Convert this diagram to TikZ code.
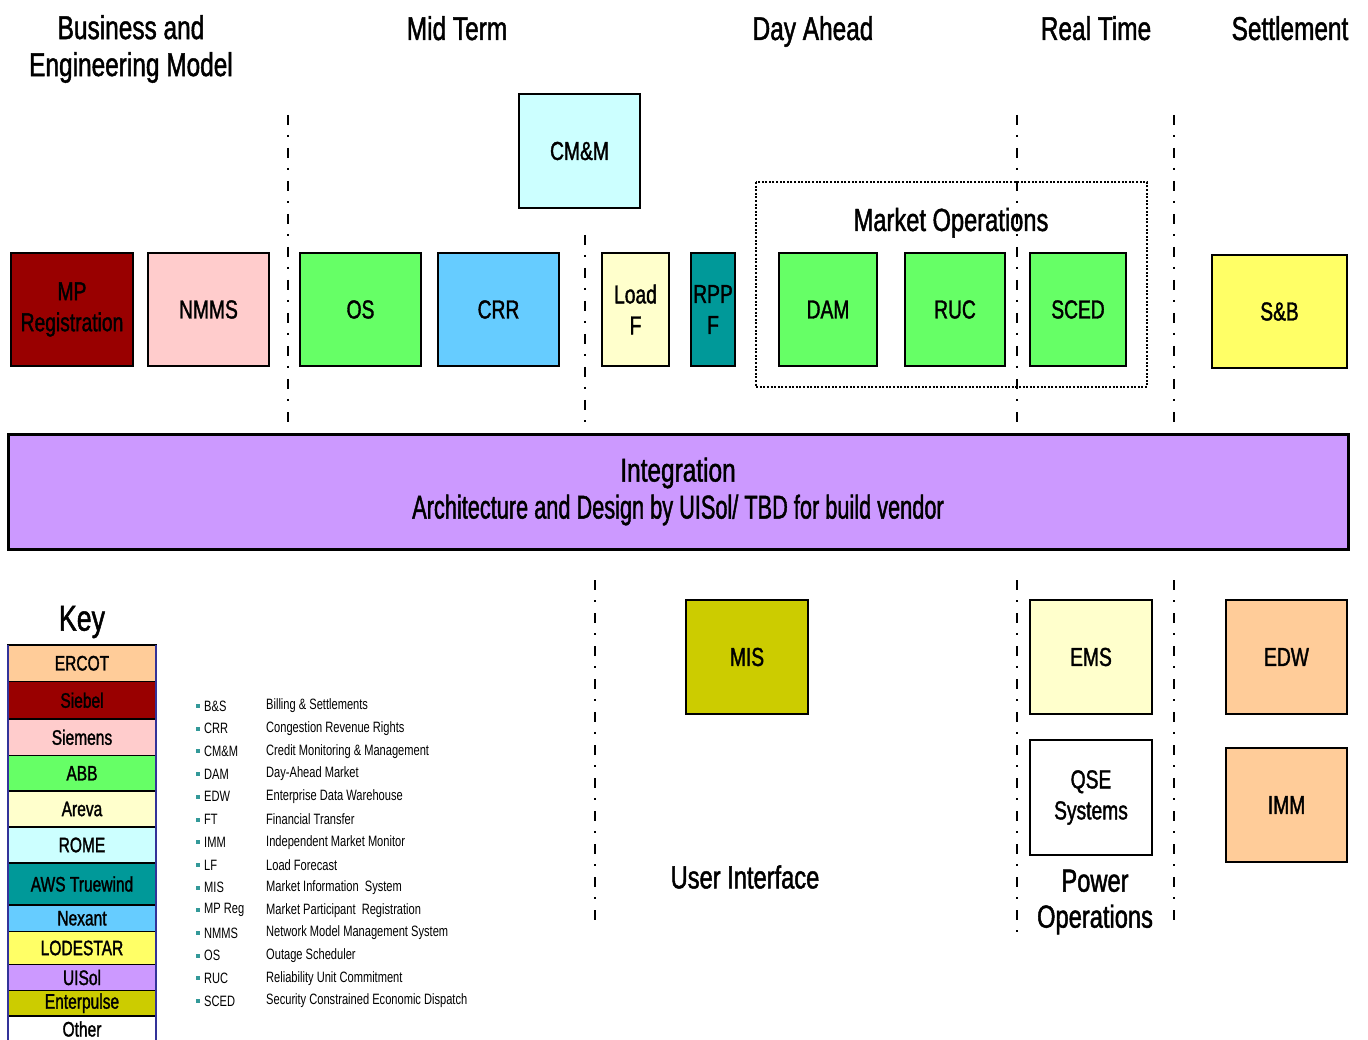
\documentclass[tikz,border=0pt]{standalone}
\usepackage{fontspec}
\setmainfont{Liberation Sans}[FakeStretch=0.74, FakeBold=1.4]
\newfontfamily\listfont{Liberation Sans}[FakeStretch=0.74]
\definecolor{cercot}{HTML}{FFCC99}
\definecolor{csiebel}{HTML}{990000}
\definecolor{csiemens}{HTML}{FFCCCC}
\definecolor{cabb}{HTML}{66FF66}
\definecolor{careva}{HTML}{FFFFCC}
\definecolor{crome}{HTML}{CCFFFF}
\definecolor{caws}{HTML}{009999}
\definecolor{cnexant}{HTML}{66CCFF}
\definecolor{clode}{HTML}{FFFF66}
\definecolor{cuisol}{HTML}{CC99FF}
\definecolor{center}{HTML}{CCCC00}
\definecolor{bulletc}{HTML}{339999}
\definecolor{keyside}{HTML}{333399}
\begin{document}
\begin{tikzpicture}[x=1pt,y=-1pt,
  box/.style={draw=black, line width=2.5pt, inner sep=0pt, outer sep=0pt, align=center, font=\fontsize{26}{31}\selectfont},
  hdr/.style={align=center, font=\fontsize{33}{37}\selectfont, inner sep=0pt},
  sepline/.style={line width=2pt, dash pattern=on 10pt off 10pt on 2pt off 11pt},
  keyrow/.style={draw=black, line width=1.5pt, minimum width=148pt, inner sep=0pt, outer sep=0pt, font=\fontsize{21}{21}\selectfont},
  abbr/.style={anchor=west, inner sep=0pt, font=\listfont\fontsize{15}{15}\selectfont},
  bul/.style={fill=bulletc, minimum size=4pt, inner sep=0pt}
]
\useasboundingbox (0,0) rectangle (1368,1040);

% headers
\node[hdr] (hBEM) at (131,49) {Business and\\Engineering Model};
\node[hdr, anchor=base] (hMT) at (457,40) {Mid Term};
\node[hdr, anchor=base] (hDA) at (813,40) {Day Ahead};
\node[hdr, anchor=base] (hRT) at (1096,40) {Real Time};
\node[hdr, anchor=base] (hSE) at (1290,40) {Settlement};

% market operations frame
\draw[line width=2pt, dash pattern=on 2pt off 1.6pt] (756,182) rectangle (1147,387);
\node[hdr, font=\fontsize{32}{36}\selectfont, anchor=base] (mops) at (951,231) {Market Operations};

% top boxes
\node[box, fill=crome, minimum width=121pt, minimum height=114pt] (cmm) at (579.5,151) {CM\&M};
\node[box, fill=csiebel, minimum width=122pt, minimum height=113pt] (mpreg) at (72,309.5) {MP\\Registration};
\node[box, fill=csiemens, minimum width=121pt, minimum height=113pt] (nmms) at (208.5,309.5) {NMMS};
\node[box, fill=cabb, minimum width=121pt, minimum height=113pt] (os) at (360.5,309.5) {OS};
\node[box, fill=cnexant, minimum width=121pt, minimum height=113pt] (crr) at (498.5,309.5) {CRR};
\node[box, fill=careva, minimum width=67pt, minimum height=113pt] (loadf) at (635.5,309.5) {Load\\F};
\node[box, fill=caws, minimum width=44pt, minimum height=113pt] (rppf) at (713,309.5) {RPP\\F};
\node[box, fill=cabb, minimum width=98pt, minimum height=113pt] (dam) at (828,309.5) {DAM};
\node[box, fill=cabb, minimum width=100pt, minimum height=113pt] (ruc) at (955,309.5) {RUC};
\node[box, fill=cabb, minimum width=96pt, minimum height=113pt] (sced) at (1078,309.5) {SCED};
\node[box, fill=clode, minimum width=135pt, minimum height=113pt] (sb) at (1279.5,311.5) {S\&B};

% integration bar
\node[draw=black, line width=3pt, fill=cuisol, minimum width=1340pt, minimum height=115pt, inner sep=0pt, align=center, font=\fontsize{33}{37}\selectfont] (integ) at (678,491.5) {Integration\\\scalebox{0.89}[1]{Architecture and Design by UISol/ TBD for build vendor}};

% lower boxes
\node[box, fill=center, minimum width=122pt, minimum height=114pt] (mis) at (747,657) {MIS};
\node[box, fill=careva, minimum width=122pt, minimum height=114pt] (ems) at (1091,657) {EMS};
\node[box, fill=white, minimum width=122pt, minimum height=115pt] (qse) at (1091,797.5) {QSE\\Systems};
\node[box, fill=cercot, minimum width=121pt, minimum height=114pt] (edw) at (1286.5,657) {EDW};
\node[box, fill=cercot, minimum width=121pt, minimum height=114pt] (imm) at (1286.5,805) {IMM};
\node[hdr, font=\fontsize{32}{36}\selectfont] (ui) at (745,877) {User Interface};
\node[hdr, font=\fontsize{32}{36}\selectfont] (powops) at (1095,902) {Power\\Operations};

% separators
\coordinate (s1a) at (288,115); \coordinate (s1b) at (288,425);
\coordinate (s2a) at (585,235); \coordinate (s2b) at (585,425);
\coordinate (s3a) at (1017,115); \coordinate (s3b) at (1017,425);
\coordinate (s4a) at (1174,115); \coordinate (s4b) at (1174,425);
\coordinate (s5a) at (595,580); \coordinate (s5b) at (595,922);
\coordinate (s6a) at (1017,580); \coordinate (s6b) at (1017,932);
\coordinate (s7a) at (1174,580); \coordinate (s7b) at (1174,925);
\draw[sepline] (s1a) -- (s1b);
\draw[sepline] (s2a) -- (s2b);
\draw[sepline] (s3a) -- (s3b);
\draw[sepline] (s4a) -- (s4b);
\draw[sepline] (s5a) -- (s5b);
\draw[sepline] (s6a) -- (s6b);
\draw[sepline] (s7a) -- (s7b);

% key
\node[hdr, font=\fontsize{36}{36}\selectfont] (keyt) at (82,622) {Key};
\node[keyrow, fill=cercot, minimum height=36.5pt] (k1) at (82,663.25) {ERCOT};
\node[keyrow, fill=csiebel, minimum height=37.5pt] (k2) at (82,700.25) {Siebel};
\node[keyrow, fill=csiemens, minimum height=36.5pt] (k3) at (82,737.25) {Siemens};
\node[keyrow, fill=cabb, minimum height=35.5pt] (k4) at (82,773.25) {ABB};
\node[keyrow, fill=careva, minimum height=36pt] (k5) at (82,809) {Areva};
\node[keyrow, fill=crome, minimum height=36pt] (k6) at (82,845) {ROME};
\node[keyrow, fill=caws, minimum height=42pt] (k7) at (82,884) {AWS Truewind};
\node[keyrow, fill=cnexant, minimum height=26.5pt] (k8) at (82,918.25) {Nexant};
\node[keyrow, fill=clode, minimum height=33pt] (k9) at (82,948) {LODESTAR};
\node[keyrow, fill=cuisol, minimum height=26pt] (k10) at (82,977.5) {UISol};
\node[keyrow, fill=center, minimum height=25.5pt] (k11) at (82,1003.25) {Enterpulse};
\node[keyrow, fill=white, minimum height=26pt] (k12) at (82,1029) {Other};
\draw[keyside, line width=2pt] (k1.north west) -- (k12.south west);
\draw[keyside, line width=2pt] (k1.north east) -- (k12.south east);

% abbreviations
\foreach \a/\d [count=\i] in {B\&S/Billing \& Settlements,
  CRR/Congestion Revenue Rights,
  CM\&M/Credit Monitoring \& Management,
  DAM/Day-Ahead Market,
  EDW/Enterprise Data Warehouse,
  FT/Financial Transfer,
  IMM/Independent Market Monitor,
  LF/Load Forecast,
  MIS/Market Information\ \ System,
  MP Reg/Market Participant\ \ Registration,
  NMMS/Network Model Management System,
  OS/Outage Scheduler,
  RUC/Reliability Unit Commitment,
  SCED/Security Constrained Economic Dispatch}{
  \pgfmathsetmacro{\yy}{706+(\i-1)*22.7}
  \node[bul] (bu\i) at (197.5,\yy) {};
  \node[abbr] (ab\i) at (204,\yy) {\a};
  \node[abbr] (de\i) at (266,\yy) {\d};
}
\end{tikzpicture}
\end{document}
